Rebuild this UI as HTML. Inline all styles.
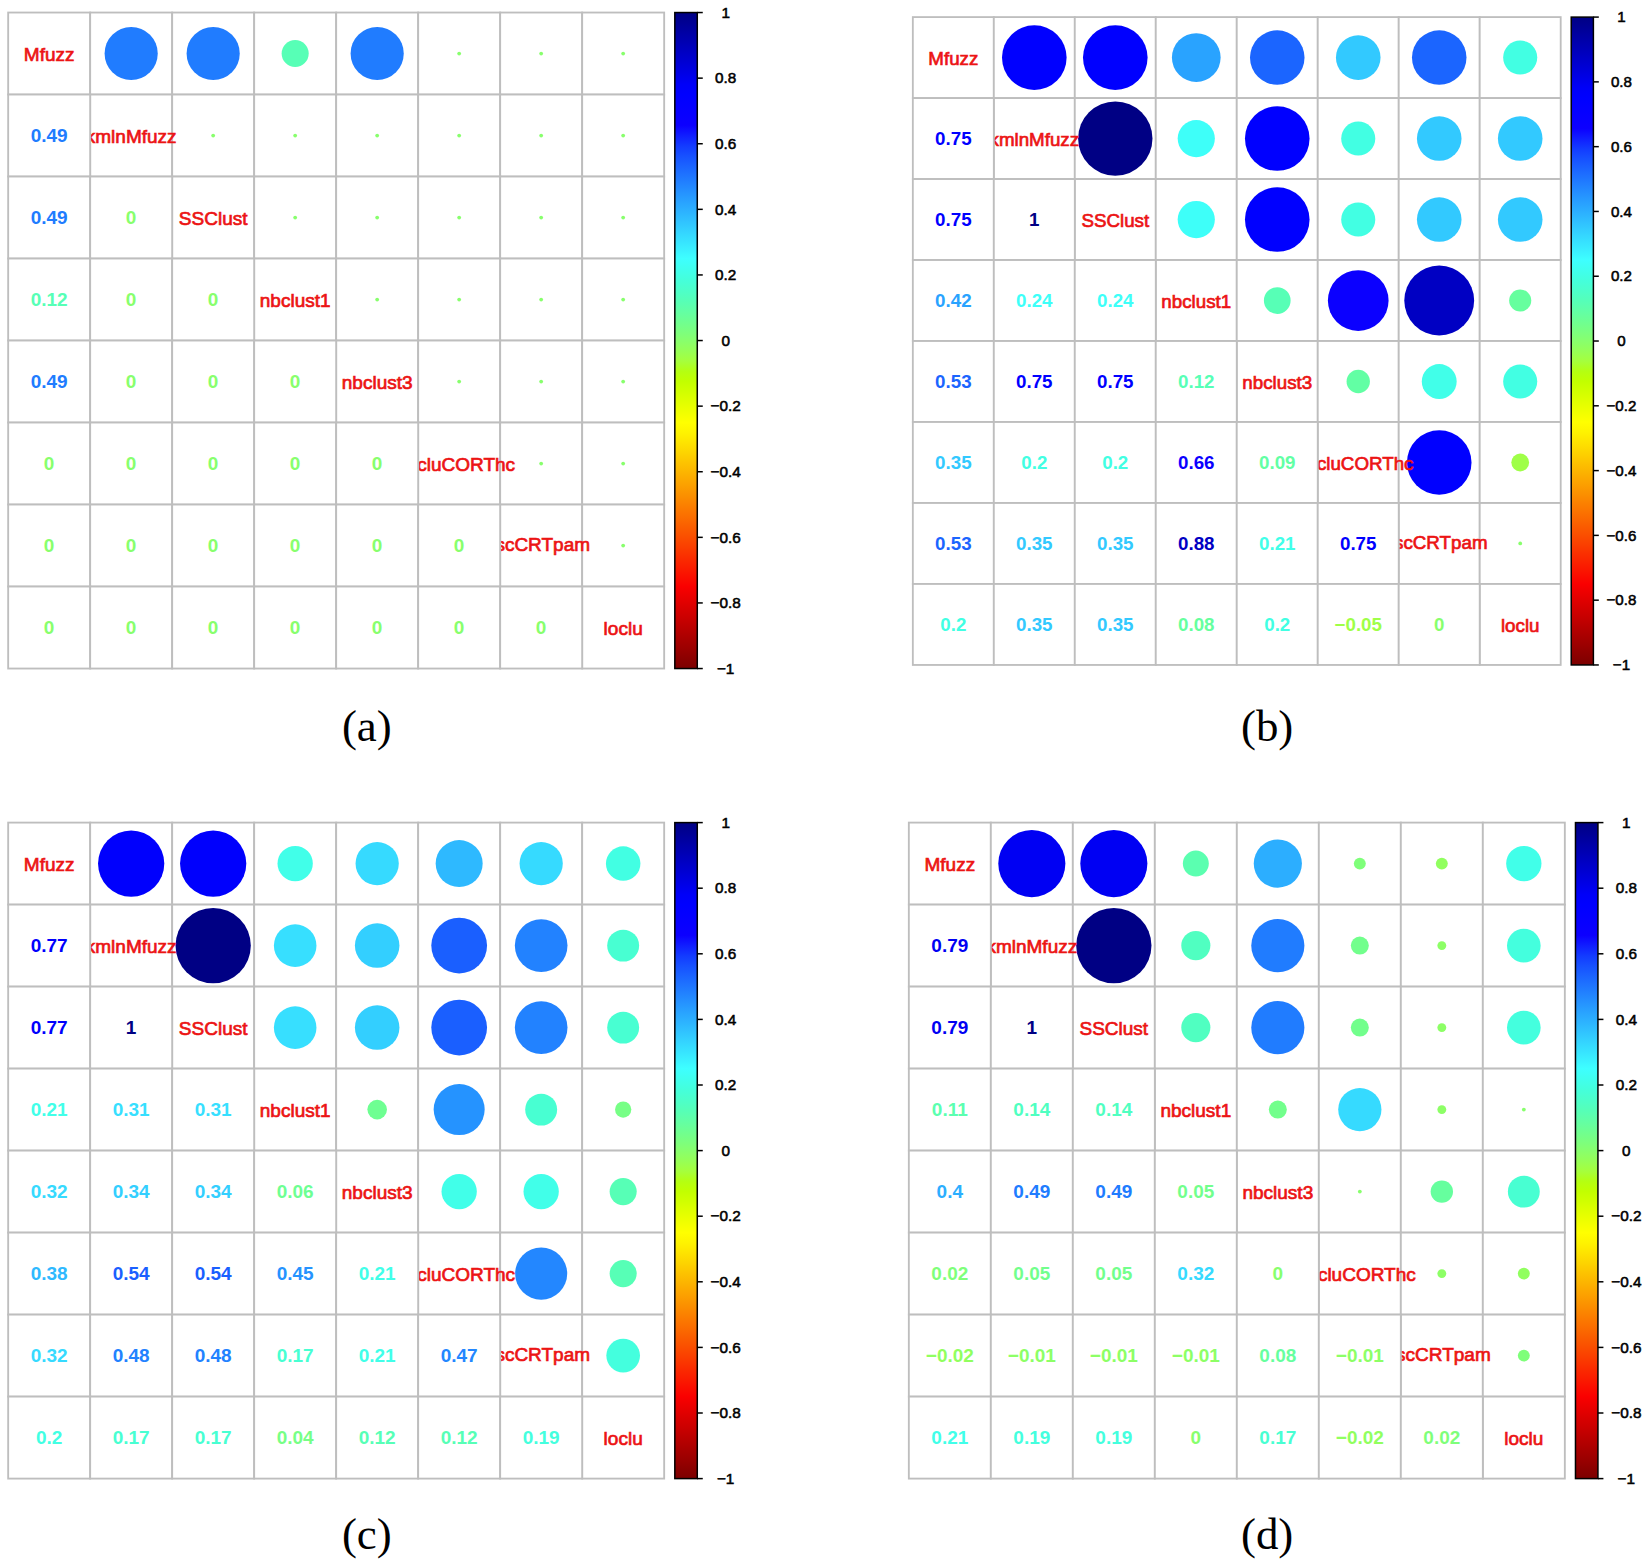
<!DOCTYPE html>
<html lang="en"><head><meta charset="utf-8"><title>Correlation of clustering methods</title>
<style>
html,body{margin:0;padding:0;background:#fff;}
body{width:1650px;height:1566px;overflow:hidden;}
svg{display:block;}
text{text-anchor:middle;}
.lab text{font-family:"Liberation Sans",Arial,sans-serif;font-size:19.0px;fill:#EC1414;stroke:#EC1414;stroke-width:.7px;}
.num text{font-family:"Liberation Sans",Arial,sans-serif;font-size:19.0px;font-weight:bold;stroke-width:0;}
.cl text{font-family:"Liberation Sans",Arial,sans-serif;font-size:15.3px;fill:#000;stroke:#000;stroke-width:.55px;}
.cap text{font-family:"Liberation Serif","Times New Roman",serif;font-size:44.9px;fill:#000;}
</style></head>
<body>
<svg width="1650" height="1566" viewBox="0 0 1650 1566">
<defs><linearGradient id="jet" x1="0" y1="0" x2="0" y2="1"><stop offset="0" stop-color="#000084"/><stop offset="0.0156" stop-color="#000094"/><stop offset="0.0312" stop-color="#0000A5"/><stop offset="0.0469" stop-color="#0000B5"/><stop offset="0.0625" stop-color="#0000C6"/><stop offset="0.0781" stop-color="#0000D6"/><stop offset="0.0938" stop-color="#0000E7"/><stop offset="0.1094" stop-color="#0000F8"/><stop offset="0.125" stop-color="#0000FF"/><stop offset="0.1406" stop-color="#0400FF"/><stop offset="0.1562" stop-color="#0800FF"/><stop offset="0.1719" stop-color="#0C00FF"/><stop offset="0.1875" stop-color="#101EFF"/><stop offset="0.2031" stop-color="#133BFF"/><stop offset="0.2188" stop-color="#1751FF"/><stop offset="0.2344" stop-color="#1B64FF"/><stop offset="0.25" stop-color="#1F76FF"/><stop offset="0.2656" stop-color="#2388FF"/><stop offset="0.2812" stop-color="#279AFF"/><stop offset="0.2969" stop-color="#2BABFF"/><stop offset="0.3125" stop-color="#2FBCFF"/><stop offset="0.3281" stop-color="#33CDFF"/><stop offset="0.3438" stop-color="#36DEFF"/><stop offset="0.3594" stop-color="#3AEEFF"/><stop offset="0.375" stop-color="#3EFFFF"/><stop offset="0.3906" stop-color="#40FFEE"/><stop offset="0.4062" stop-color="#44FFDC"/><stop offset="0.4219" stop-color="#4CFFCB"/><stop offset="0.4375" stop-color="#55FFB9"/><stop offset="0.4531" stop-color="#61FFA7"/><stop offset="0.4688" stop-color="#6DFF94"/><stop offset="0.4844" stop-color="#7AFF81"/><stop offset="0.5" stop-color="#88FF6D"/><stop offset="0.5156" stop-color="#96FF57"/><stop offset="0.5312" stop-color="#A5FF3D"/><stop offset="0.5469" stop-color="#B4FF12"/><stop offset="0.5625" stop-color="#C2FF00"/><stop offset="0.5781" stop-color="#D1FF00"/><stop offset="0.5938" stop-color="#E1FF00"/><stop offset="0.6094" stop-color="#F0FF00"/><stop offset="0.625" stop-color="#FFFF00"/><stop offset="0.6406" stop-color="#FEF300"/><stop offset="0.6562" stop-color="#FEE300"/><stop offset="0.6719" stop-color="#FDD300"/><stop offset="0.6875" stop-color="#FDC200"/><stop offset="0.7031" stop-color="#FCB200"/><stop offset="0.7188" stop-color="#FCA200"/><stop offset="0.7344" stop-color="#FB9200"/><stop offset="0.75" stop-color="#FB8100"/><stop offset="0.7656" stop-color="#FB7100"/><stop offset="0.7812" stop-color="#FA6100"/><stop offset="0.7969" stop-color="#FA5100"/><stop offset="0.8125" stop-color="#FA4100"/><stop offset="0.8281" stop-color="#FA3000"/><stop offset="0.8438" stop-color="#FA2000"/><stop offset="0.8594" stop-color="#FA1000"/><stop offset="0.875" stop-color="#FA0000"/><stop offset="0.8906" stop-color="#EA0000"/><stop offset="0.9062" stop-color="#DA0000"/><stop offset="0.9219" stop-color="#CB0000"/><stop offset="0.9375" stop-color="#BB0000"/><stop offset="0.9531" stop-color="#AB0000"/><stop offset="0.9688" stop-color="#9C0000"/><stop offset="0.9844" stop-color="#8C0000"/><stop offset="1" stop-color="#7C0000"/></linearGradient></defs>
<rect width="1650" height="1566" fill="#fff"/>
<g transform="translate(8.17 12.54) scale(1.0)">
<g fill="#fff" stroke="#BEBEBE" stroke-width="1.85">
<rect x="0" y="0" width="82" height="82"/>
<rect x="82" y="0" width="82" height="82"/>
<rect x="164" y="0" width="82" height="82"/>
<rect x="246" y="0" width="82" height="82"/>
<rect x="328" y="0" width="82" height="82"/>
<rect x="410" y="0" width="82" height="82"/>
<rect x="492" y="0" width="82" height="82"/>
<rect x="574" y="0" width="82" height="82"/>
<rect x="82" y="82" width="82" height="82"/>
<rect x="164" y="82" width="82" height="82"/>
<rect x="246" y="82" width="82" height="82"/>
<rect x="328" y="82" width="82" height="82"/>
<rect x="410" y="82" width="82" height="82"/>
<rect x="492" y="82" width="82" height="82"/>
<rect x="574" y="82" width="82" height="82"/>
<rect x="164" y="164" width="82" height="82"/>
<rect x="246" y="164" width="82" height="82"/>
<rect x="328" y="164" width="82" height="82"/>
<rect x="410" y="164" width="82" height="82"/>
<rect x="492" y="164" width="82" height="82"/>
<rect x="574" y="164" width="82" height="82"/>
<rect x="246" y="246" width="82" height="82"/>
<rect x="328" y="246" width="82" height="82"/>
<rect x="410" y="246" width="82" height="82"/>
<rect x="492" y="246" width="82" height="82"/>
<rect x="574" y="246" width="82" height="82"/>
<rect x="328" y="328" width="82" height="82"/>
<rect x="410" y="328" width="82" height="82"/>
<rect x="492" y="328" width="82" height="82"/>
<rect x="574" y="328" width="82" height="82"/>
<rect x="410" y="410" width="82" height="82"/>
<rect x="492" y="410" width="82" height="82"/>
<rect x="574" y="410" width="82" height="82"/>
<rect x="492" y="492" width="82" height="82"/>
<rect x="574" y="492" width="82" height="82"/>
<rect x="574" y="574" width="82" height="82"/>
</g>
<g>
<circle cx="123" cy="41" r="26.58" fill="#207CFF"/>
<circle cx="205" cy="41" r="26.58" fill="#207CFF"/>
<circle cx="287" cy="41" r="13.53" fill="#57FFB6"/>
<circle cx="369" cy="41" r="26.58" fill="#207CFF"/>
<circle cx="451" cy="41" r="1.9" fill="#88FF6D"/>
<circle cx="533" cy="41" r="1.9" fill="#88FF6D"/>
<circle cx="615" cy="41" r="1.9" fill="#88FF6D"/>
<circle cx="205" cy="123" r="1.9" fill="#88FF6D"/>
<circle cx="287" cy="123" r="1.9" fill="#88FF6D"/>
<circle cx="369" cy="123" r="1.9" fill="#88FF6D"/>
<circle cx="451" cy="123" r="1.9" fill="#88FF6D"/>
<circle cx="533" cy="123" r="1.9" fill="#88FF6D"/>
<circle cx="615" cy="123" r="1.9" fill="#88FF6D"/>
<circle cx="287" cy="205" r="1.9" fill="#88FF6D"/>
<circle cx="369" cy="205" r="1.9" fill="#88FF6D"/>
<circle cx="451" cy="205" r="1.9" fill="#88FF6D"/>
<circle cx="533" cy="205" r="1.9" fill="#88FF6D"/>
<circle cx="615" cy="205" r="1.9" fill="#88FF6D"/>
<circle cx="369" cy="287" r="1.9" fill="#88FF6D"/>
<circle cx="451" cy="287" r="1.9" fill="#88FF6D"/>
<circle cx="533" cy="287" r="1.9" fill="#88FF6D"/>
<circle cx="615" cy="287" r="1.9" fill="#88FF6D"/>
<circle cx="451" cy="369" r="1.9" fill="#88FF6D"/>
<circle cx="533" cy="369" r="1.9" fill="#88FF6D"/>
<circle cx="615" cy="369" r="1.9" fill="#88FF6D"/>
<circle cx="533" cy="451" r="1.9" fill="#88FF6D"/>
<circle cx="615" cy="451" r="1.9" fill="#88FF6D"/>
<circle cx="615" cy="533" r="1.9" fill="#88FF6D"/>
</g>
<g class="lab">
<text x="41" y="48.2">Mfuzz</text>
<text x="123" y="130.2">kmlnMfuzz</text>
<text x="205" y="212.2">SSClust</text>
<text x="287" y="294.2">nbclust1</text>
<text x="369" y="376.2">nbclust3</text>
<text x="506.9" y="458.2" style="text-anchor:end">cluCORThc</text>
<text x="581.9" y="538.2" style="text-anchor:end">scCRTpam</text>
<text x="615" y="622.2">loclu</text>
</g>
<g fill="#fff" stroke="#BEBEBE" stroke-width="1.85">
<rect x="0" y="82" width="82" height="82"/>
<rect x="0" y="164" width="82" height="82"/>
<rect x="82" y="164" width="82" height="82"/>
<rect x="0" y="246" width="82" height="82"/>
<rect x="82" y="246" width="82" height="82"/>
<rect x="164" y="246" width="82" height="82"/>
<rect x="0" y="328" width="82" height="82"/>
<rect x="82" y="328" width="82" height="82"/>
<rect x="164" y="328" width="82" height="82"/>
<rect x="246" y="328" width="82" height="82"/>
<rect x="0" y="410" width="82" height="82"/>
<rect x="82" y="410" width="82" height="82"/>
<rect x="164" y="410" width="82" height="82"/>
<rect x="246" y="410" width="82" height="82"/>
<rect x="328" y="410" width="82" height="82"/>
<rect x="0" y="492" width="82" height="82"/>
<rect x="82" y="492" width="82" height="82"/>
<rect x="164" y="492" width="82" height="82"/>
<rect x="246" y="492" width="82" height="82"/>
<rect x="328" y="492" width="82" height="82"/>
<rect x="410" y="492" width="82" height="82"/>
<rect x="0" y="574" width="82" height="82"/>
<rect x="82" y="574" width="82" height="82"/>
<rect x="164" y="574" width="82" height="82"/>
<rect x="246" y="574" width="82" height="82"/>
<rect x="328" y="574" width="82" height="82"/>
<rect x="410" y="574" width="82" height="82"/>
<rect x="492" y="574" width="82" height="82"/>
</g>
<g class="num">
<text x="41" y="129.2" fill="#207CFF" stroke="#207CFF">0.49</text>
<text x="41" y="211.2" fill="#207CFF" stroke="#207CFF">0.49</text>
<text x="123" y="211.2" fill="#88FF6D" stroke="#88FF6D">0</text>
<text x="41" y="293.2" fill="#57FFB6" stroke="#57FFB6">0.12</text>
<text x="123" y="293.2" fill="#88FF6D" stroke="#88FF6D">0</text>
<text x="205" y="293.2" fill="#88FF6D" stroke="#88FF6D">0</text>
<text x="41" y="375.2" fill="#207CFF" stroke="#207CFF">0.49</text>
<text x="123" y="375.2" fill="#88FF6D" stroke="#88FF6D">0</text>
<text x="205" y="375.2" fill="#88FF6D" stroke="#88FF6D">0</text>
<text x="287" y="375.2" fill="#88FF6D" stroke="#88FF6D">0</text>
<text x="41" y="457.2" fill="#88FF6D" stroke="#88FF6D">0</text>
<text x="123" y="457.2" fill="#88FF6D" stroke="#88FF6D">0</text>
<text x="205" y="457.2" fill="#88FF6D" stroke="#88FF6D">0</text>
<text x="287" y="457.2" fill="#88FF6D" stroke="#88FF6D">0</text>
<text x="369" y="457.2" fill="#88FF6D" stroke="#88FF6D">0</text>
<text x="41" y="539.2" fill="#88FF6D" stroke="#88FF6D">0</text>
<text x="123" y="539.2" fill="#88FF6D" stroke="#88FF6D">0</text>
<text x="205" y="539.2" fill="#88FF6D" stroke="#88FF6D">0</text>
<text x="287" y="539.2" fill="#88FF6D" stroke="#88FF6D">0</text>
<text x="369" y="539.2" fill="#88FF6D" stroke="#88FF6D">0</text>
<text x="451" y="539.2" fill="#88FF6D" stroke="#88FF6D">0</text>
<text x="41" y="621.2" fill="#88FF6D" stroke="#88FF6D">0</text>
<text x="123" y="621.2" fill="#88FF6D" stroke="#88FF6D">0</text>
<text x="205" y="621.2" fill="#88FF6D" stroke="#88FF6D">0</text>
<text x="287" y="621.2" fill="#88FF6D" stroke="#88FF6D">0</text>
<text x="369" y="621.2" fill="#88FF6D" stroke="#88FF6D">0</text>
<text x="451" y="621.2" fill="#88FF6D" stroke="#88FF6D">0</text>
<text x="533" y="621.2" fill="#88FF6D" stroke="#88FF6D">0</text>
</g>
<rect x="666.65" y="0" width="22.45" height="656" fill="url(#jet)" stroke="#000" stroke-width="1.5"/>
<g stroke="#000" stroke-width="1.5">
<line x1="689.1" y1="0" x2="694.6" y2="0"/>
<line x1="689.1" y1="65.6" x2="694.6" y2="65.6"/>
<line x1="689.1" y1="131.2" x2="694.6" y2="131.2"/>
<line x1="689.1" y1="196.8" x2="694.6" y2="196.8"/>
<line x1="689.1" y1="262.4" x2="694.6" y2="262.4"/>
<line x1="689.1" y1="328" x2="694.6" y2="328"/>
<line x1="689.1" y1="393.6" x2="694.6" y2="393.6"/>
<line x1="689.1" y1="459.2" x2="694.6" y2="459.2"/>
<line x1="689.1" y1="524.8" x2="694.6" y2="524.8"/>
<line x1="689.1" y1="590.4" x2="694.6" y2="590.4"/>
<line x1="689.1" y1="656" x2="694.6" y2="656"/>
</g>
<g class="cl">
<text x="717.5" y="5.28">1</text>
<text x="717.5" y="70.88">0.8</text>
<text x="717.5" y="136.48">0.6</text>
<text x="717.5" y="202.08">0.4</text>
<text x="717.5" y="267.68">0.2</text>
<text x="717.5" y="333.28">0</text>
<text x="717.5" y="398.88">−0.2</text>
<text x="717.5" y="464.48">−0.4</text>
<text x="717.5" y="530.08">−0.6</text>
<text x="717.5" y="595.68">−0.8</text>
<text x="717.5" y="661.28">−1</text>
</g>
</g>
<g transform="translate(912.83 17.09) scale(0.9876)">
<g fill="#fff" stroke="#BEBEBE" stroke-width="1.85">
<rect x="0" y="0" width="82" height="82"/>
<rect x="82" y="0" width="82" height="82"/>
<rect x="164" y="0" width="82" height="82"/>
<rect x="246" y="0" width="82" height="82"/>
<rect x="328" y="0" width="82" height="82"/>
<rect x="410" y="0" width="82" height="82"/>
<rect x="492" y="0" width="82" height="82"/>
<rect x="574" y="0" width="82" height="82"/>
<rect x="82" y="82" width="82" height="82"/>
<rect x="164" y="82" width="82" height="82"/>
<rect x="246" y="82" width="82" height="82"/>
<rect x="328" y="82" width="82" height="82"/>
<rect x="410" y="82" width="82" height="82"/>
<rect x="492" y="82" width="82" height="82"/>
<rect x="574" y="82" width="82" height="82"/>
<rect x="164" y="164" width="82" height="82"/>
<rect x="246" y="164" width="82" height="82"/>
<rect x="328" y="164" width="82" height="82"/>
<rect x="410" y="164" width="82" height="82"/>
<rect x="492" y="164" width="82" height="82"/>
<rect x="574" y="164" width="82" height="82"/>
<rect x="246" y="246" width="82" height="82"/>
<rect x="328" y="246" width="82" height="82"/>
<rect x="410" y="246" width="82" height="82"/>
<rect x="492" y="246" width="82" height="82"/>
<rect x="574" y="246" width="82" height="82"/>
<rect x="328" y="328" width="82" height="82"/>
<rect x="410" y="328" width="82" height="82"/>
<rect x="492" y="328" width="82" height="82"/>
<rect x="574" y="328" width="82" height="82"/>
<rect x="410" y="410" width="82" height="82"/>
<rect x="492" y="410" width="82" height="82"/>
<rect x="574" y="410" width="82" height="82"/>
<rect x="492" y="492" width="82" height="82"/>
<rect x="574" y="492" width="82" height="82"/>
<rect x="574" y="574" width="82" height="82"/>
</g>
<g>
<circle cx="123" cy="41" r="32.71" fill="#0000FF"/>
<circle cx="205" cy="41" r="32.71" fill="#0000FF"/>
<circle cx="287" cy="41" r="24.66" fill="#29A3FF"/>
<circle cx="369" cy="41" r="27.61" fill="#1B65FF"/>
<circle cx="451" cy="41" r="22.58" fill="#32C9FF"/>
<circle cx="533" cy="41" r="27.61" fill="#1B65FF"/>
<circle cx="615" cy="41" r="17.25" fill="#42FFE3"/>
<circle cx="205" cy="123" r="37.65" fill="#000084"/>
<circle cx="287" cy="123" r="18.83" fill="#3EFFF9"/>
<circle cx="369" cy="123" r="32.71" fill="#0000FF"/>
<circle cx="451" cy="123" r="17.25" fill="#42FFE3"/>
<circle cx="533" cy="123" r="22.58" fill="#32C9FF"/>
<circle cx="615" cy="123" r="22.58" fill="#32C9FF"/>
<circle cx="287" cy="205" r="18.83" fill="#3EFFF9"/>
<circle cx="369" cy="205" r="32.71" fill="#0000FF"/>
<circle cx="451" cy="205" r="17.25" fill="#42FFE3"/>
<circle cx="533" cy="205" r="22.58" fill="#32C9FF"/>
<circle cx="615" cy="205" r="22.58" fill="#32C9FF"/>
<circle cx="369" cy="287" r="13.53" fill="#57FFB6"/>
<circle cx="451" cy="287" r="30.73" fill="#0B00FF"/>
<circle cx="533" cy="287" r="35.37" fill="#0000C3"/>
<circle cx="615" cy="287" r="11.19" fill="#66FF9E"/>
<circle cx="451" cy="369" r="11.82" fill="#62FFA4"/>
<circle cx="533" cy="369" r="17.66" fill="#41FFE9"/>
<circle cx="615" cy="369" r="17.25" fill="#42FFE3"/>
<circle cx="533" cy="451" r="32.71" fill="#0000FF"/>
<circle cx="615" cy="451" r="9" fill="#9FFF48"/>
<circle cx="615" cy="533" r="1.9" fill="#88FF6D"/>
</g>
<g class="lab">
<text x="41" y="48.2">Mfuzz</text>
<text x="123" y="130.2">kmlnMfuzz</text>
<text x="205" y="212.2">SSClust</text>
<text x="287" y="294.2">nbclust1</text>
<text x="369" y="376.2">nbclust3</text>
<text x="506.9" y="458.2" style="text-anchor:end">cluCORThc</text>
<text x="581.9" y="538.2" style="text-anchor:end">scCRTpam</text>
<text x="615" y="622.2">loclu</text>
</g>
<g fill="#fff" stroke="#BEBEBE" stroke-width="1.85">
<rect x="0" y="82" width="82" height="82"/>
<rect x="0" y="164" width="82" height="82"/>
<rect x="82" y="164" width="82" height="82"/>
<rect x="0" y="246" width="82" height="82"/>
<rect x="82" y="246" width="82" height="82"/>
<rect x="164" y="246" width="82" height="82"/>
<rect x="0" y="328" width="82" height="82"/>
<rect x="82" y="328" width="82" height="82"/>
<rect x="164" y="328" width="82" height="82"/>
<rect x="246" y="328" width="82" height="82"/>
<rect x="0" y="410" width="82" height="82"/>
<rect x="82" y="410" width="82" height="82"/>
<rect x="164" y="410" width="82" height="82"/>
<rect x="246" y="410" width="82" height="82"/>
<rect x="328" y="410" width="82" height="82"/>
<rect x="0" y="492" width="82" height="82"/>
<rect x="82" y="492" width="82" height="82"/>
<rect x="164" y="492" width="82" height="82"/>
<rect x="246" y="492" width="82" height="82"/>
<rect x="328" y="492" width="82" height="82"/>
<rect x="410" y="492" width="82" height="82"/>
<rect x="0" y="574" width="82" height="82"/>
<rect x="82" y="574" width="82" height="82"/>
<rect x="164" y="574" width="82" height="82"/>
<rect x="246" y="574" width="82" height="82"/>
<rect x="328" y="574" width="82" height="82"/>
<rect x="410" y="574" width="82" height="82"/>
<rect x="492" y="574" width="82" height="82"/>
</g>
<g class="num">
<text x="41" y="129.2" fill="#0000FF" stroke="#0000FF">0.75</text>
<text x="41" y="211.2" fill="#0000FF" stroke="#0000FF">0.75</text>
<text x="123" y="211.2" fill="#000084" stroke="#000084">1</text>
<text x="41" y="293.2" fill="#29A3FF" stroke="#29A3FF">0.42</text>
<text x="123" y="293.2" fill="#3EFFF9" stroke="#3EFFF9">0.24</text>
<text x="205" y="293.2" fill="#3EFFF9" stroke="#3EFFF9">0.24</text>
<text x="41" y="375.2" fill="#1B65FF" stroke="#1B65FF">0.53</text>
<text x="123" y="375.2" fill="#0000FF" stroke="#0000FF">0.75</text>
<text x="205" y="375.2" fill="#0000FF" stroke="#0000FF">0.75</text>
<text x="287" y="375.2" fill="#57FFB6" stroke="#57FFB6">0.12</text>
<text x="41" y="457.2" fill="#32C9FF" stroke="#32C9FF">0.35</text>
<text x="123" y="457.2" fill="#42FFE3" stroke="#42FFE3">0.2</text>
<text x="205" y="457.2" fill="#42FFE3" stroke="#42FFE3">0.2</text>
<text x="287" y="457.2" fill="#0B00FF" stroke="#0B00FF">0.66</text>
<text x="369" y="457.2" fill="#62FFA4" stroke="#62FFA4">0.09</text>
<text x="41" y="539.2" fill="#1B65FF" stroke="#1B65FF">0.53</text>
<text x="123" y="539.2" fill="#32C9FF" stroke="#32C9FF">0.35</text>
<text x="205" y="539.2" fill="#32C9FF" stroke="#32C9FF">0.35</text>
<text x="287" y="539.2" fill="#0000C3" stroke="#0000C3">0.88</text>
<text x="369" y="539.2" fill="#41FFE9" stroke="#41FFE9">0.21</text>
<text x="451" y="539.2" fill="#0000FF" stroke="#0000FF">0.75</text>
<text x="41" y="621.2" fill="#42FFE3" stroke="#42FFE3">0.2</text>
<text x="123" y="621.2" fill="#32C9FF" stroke="#32C9FF">0.35</text>
<text x="205" y="621.2" fill="#32C9FF" stroke="#32C9FF">0.35</text>
<text x="287" y="621.2" fill="#66FF9E" stroke="#66FF9E">0.08</text>
<text x="369" y="621.2" fill="#42FFE3" stroke="#42FFE3">0.2</text>
<text x="451" y="621.2" fill="#9FFF48" stroke="#9FFF48">−0.05</text>
<text x="533" y="621.2" fill="#88FF6D" stroke="#88FF6D">0</text>
</g>
<rect x="666.65" y="0" width="22.45" height="656" fill="url(#jet)" stroke="#000" stroke-width="1.5"/>
<g stroke="#000" stroke-width="1.5">
<line x1="689.1" y1="0" x2="694.6" y2="0"/>
<line x1="689.1" y1="65.6" x2="694.6" y2="65.6"/>
<line x1="689.1" y1="131.2" x2="694.6" y2="131.2"/>
<line x1="689.1" y1="196.8" x2="694.6" y2="196.8"/>
<line x1="689.1" y1="262.4" x2="694.6" y2="262.4"/>
<line x1="689.1" y1="328" x2="694.6" y2="328"/>
<line x1="689.1" y1="393.6" x2="694.6" y2="393.6"/>
<line x1="689.1" y1="459.2" x2="694.6" y2="459.2"/>
<line x1="689.1" y1="524.8" x2="694.6" y2="524.8"/>
<line x1="689.1" y1="590.4" x2="694.6" y2="590.4"/>
<line x1="689.1" y1="656" x2="694.6" y2="656"/>
</g>
<g class="cl">
<text x="717.5" y="5.28">1</text>
<text x="717.5" y="70.88">0.8</text>
<text x="717.5" y="136.48">0.6</text>
<text x="717.5" y="202.08">0.4</text>
<text x="717.5" y="267.68">0.2</text>
<text x="717.5" y="333.28">0</text>
<text x="717.5" y="398.88">−0.2</text>
<text x="717.5" y="464.48">−0.4</text>
<text x="717.5" y="530.08">−0.6</text>
<text x="717.5" y="595.68">−0.8</text>
<text x="717.5" y="661.28">−1</text>
</g>
</g>
<g transform="translate(8.17 822.6) scale(1.0)">
<g fill="#fff" stroke="#BEBEBE" stroke-width="1.85">
<rect x="0" y="0" width="82" height="82"/>
<rect x="82" y="0" width="82" height="82"/>
<rect x="164" y="0" width="82" height="82"/>
<rect x="246" y="0" width="82" height="82"/>
<rect x="328" y="0" width="82" height="82"/>
<rect x="410" y="0" width="82" height="82"/>
<rect x="492" y="0" width="82" height="82"/>
<rect x="574" y="0" width="82" height="82"/>
<rect x="82" y="82" width="82" height="82"/>
<rect x="164" y="82" width="82" height="82"/>
<rect x="246" y="82" width="82" height="82"/>
<rect x="328" y="82" width="82" height="82"/>
<rect x="410" y="82" width="82" height="82"/>
<rect x="492" y="82" width="82" height="82"/>
<rect x="574" y="82" width="82" height="82"/>
<rect x="164" y="164" width="82" height="82"/>
<rect x="246" y="164" width="82" height="82"/>
<rect x="328" y="164" width="82" height="82"/>
<rect x="410" y="164" width="82" height="82"/>
<rect x="492" y="164" width="82" height="82"/>
<rect x="574" y="164" width="82" height="82"/>
<rect x="246" y="246" width="82" height="82"/>
<rect x="328" y="246" width="82" height="82"/>
<rect x="410" y="246" width="82" height="82"/>
<rect x="492" y="246" width="82" height="82"/>
<rect x="574" y="246" width="82" height="82"/>
<rect x="328" y="328" width="82" height="82"/>
<rect x="410" y="328" width="82" height="82"/>
<rect x="492" y="328" width="82" height="82"/>
<rect x="574" y="328" width="82" height="82"/>
<rect x="410" y="410" width="82" height="82"/>
<rect x="492" y="410" width="82" height="82"/>
<rect x="574" y="410" width="82" height="82"/>
<rect x="492" y="492" width="82" height="82"/>
<rect x="574" y="492" width="82" height="82"/>
<rect x="574" y="574" width="82" height="82"/>
</g>
<g>
<circle cx="123" cy="41" r="33.13" fill="#0000FD"/>
<circle cx="205" cy="41" r="33.13" fill="#0000FD"/>
<circle cx="287" cy="41" r="17.66" fill="#41FFE9"/>
<circle cx="369" cy="41" r="21.62" fill="#36DAFF"/>
<circle cx="451" cy="41" r="23.5" fill="#2EB9FF"/>
<circle cx="533" cy="41" r="21.62" fill="#36DAFF"/>
<circle cx="615" cy="41" r="17.25" fill="#42FFE3"/>
<circle cx="205" cy="123" r="37.65" fill="#000084"/>
<circle cx="287" cy="123" r="21.3" fill="#37DFFF"/>
<circle cx="369" cy="123" r="22.27" fill="#33CFFF"/>
<circle cx="451" cy="123" r="27.87" fill="#1A5FFF"/>
<circle cx="533" cy="123" r="26.32" fill="#2282FF"/>
<circle cx="615" cy="123" r="15.96" fill="#48FFD2"/>
<circle cx="287" cy="205" r="21.3" fill="#37DFFF"/>
<circle cx="369" cy="205" r="22.27" fill="#33CFFF"/>
<circle cx="451" cy="205" r="27.87" fill="#1A5FFF"/>
<circle cx="533" cy="205" r="26.32" fill="#2282FF"/>
<circle cx="615" cy="205" r="15.96" fill="#48FFD2"/>
<circle cx="369" cy="287" r="9.79" fill="#6EFF92"/>
<circle cx="451" cy="287" r="25.5" fill="#2593FF"/>
<circle cx="533" cy="287" r="15.96" fill="#48FFD2"/>
<circle cx="615" cy="287" r="8.13" fill="#77FF86"/>
<circle cx="451" cy="369" r="17.66" fill="#41FFE9"/>
<circle cx="533" cy="369" r="17.66" fill="#41FFE9"/>
<circle cx="615" cy="369" r="13.53" fill="#57FFB6"/>
<circle cx="533" cy="451" r="26.05" fill="#2387FF"/>
<circle cx="615" cy="451" r="13.53" fill="#57FFB6"/>
<circle cx="615" cy="533" r="16.83" fill="#44FFDE"/>
</g>
<g class="lab">
<text x="41" y="48.2">Mfuzz</text>
<text x="123" y="130.2">kmlnMfuzz</text>
<text x="205" y="212.2">SSClust</text>
<text x="287" y="294.2">nbclust1</text>
<text x="369" y="376.2">nbclust3</text>
<text x="506.9" y="458.2" style="text-anchor:end">cluCORThc</text>
<text x="581.9" y="538.2" style="text-anchor:end">scCRTpam</text>
<text x="615" y="622.2">loclu</text>
</g>
<g fill="#fff" stroke="#BEBEBE" stroke-width="1.85">
<rect x="0" y="82" width="82" height="82"/>
<rect x="0" y="164" width="82" height="82"/>
<rect x="82" y="164" width="82" height="82"/>
<rect x="0" y="246" width="82" height="82"/>
<rect x="82" y="246" width="82" height="82"/>
<rect x="164" y="246" width="82" height="82"/>
<rect x="0" y="328" width="82" height="82"/>
<rect x="82" y="328" width="82" height="82"/>
<rect x="164" y="328" width="82" height="82"/>
<rect x="246" y="328" width="82" height="82"/>
<rect x="0" y="410" width="82" height="82"/>
<rect x="82" y="410" width="82" height="82"/>
<rect x="164" y="410" width="82" height="82"/>
<rect x="246" y="410" width="82" height="82"/>
<rect x="328" y="410" width="82" height="82"/>
<rect x="0" y="492" width="82" height="82"/>
<rect x="82" y="492" width="82" height="82"/>
<rect x="164" y="492" width="82" height="82"/>
<rect x="246" y="492" width="82" height="82"/>
<rect x="328" y="492" width="82" height="82"/>
<rect x="410" y="492" width="82" height="82"/>
<rect x="0" y="574" width="82" height="82"/>
<rect x="82" y="574" width="82" height="82"/>
<rect x="164" y="574" width="82" height="82"/>
<rect x="246" y="574" width="82" height="82"/>
<rect x="328" y="574" width="82" height="82"/>
<rect x="410" y="574" width="82" height="82"/>
<rect x="492" y="574" width="82" height="82"/>
</g>
<g class="num">
<text x="41" y="129.2" fill="#0000FD" stroke="#0000FD">0.77</text>
<text x="41" y="211.2" fill="#0000FD" stroke="#0000FD">0.77</text>
<text x="123" y="211.2" fill="#000084" stroke="#000084">1</text>
<text x="41" y="293.2" fill="#41FFE9" stroke="#41FFE9">0.21</text>
<text x="123" y="293.2" fill="#37DFFF" stroke="#37DFFF">0.31</text>
<text x="205" y="293.2" fill="#37DFFF" stroke="#37DFFF">0.31</text>
<text x="41" y="375.2" fill="#36DAFF" stroke="#36DAFF">0.32</text>
<text x="123" y="375.2" fill="#33CFFF" stroke="#33CFFF">0.34</text>
<text x="205" y="375.2" fill="#33CFFF" stroke="#33CFFF">0.34</text>
<text x="287" y="375.2" fill="#6EFF92" stroke="#6EFF92">0.06</text>
<text x="41" y="457.2" fill="#2EB9FF" stroke="#2EB9FF">0.38</text>
<text x="123" y="457.2" fill="#1A5FFF" stroke="#1A5FFF">0.54</text>
<text x="205" y="457.2" fill="#1A5FFF" stroke="#1A5FFF">0.54</text>
<text x="287" y="457.2" fill="#2593FF" stroke="#2593FF">0.45</text>
<text x="369" y="457.2" fill="#41FFE9" stroke="#41FFE9">0.21</text>
<text x="41" y="539.2" fill="#36DAFF" stroke="#36DAFF">0.32</text>
<text x="123" y="539.2" fill="#2282FF" stroke="#2282FF">0.48</text>
<text x="205" y="539.2" fill="#2282FF" stroke="#2282FF">0.48</text>
<text x="287" y="539.2" fill="#48FFD2" stroke="#48FFD2">0.17</text>
<text x="369" y="539.2" fill="#41FFE9" stroke="#41FFE9">0.21</text>
<text x="451" y="539.2" fill="#2387FF" stroke="#2387FF">0.47</text>
<text x="41" y="621.2" fill="#42FFE3" stroke="#42FFE3">0.2</text>
<text x="123" y="621.2" fill="#48FFD2" stroke="#48FFD2">0.17</text>
<text x="205" y="621.2" fill="#48FFD2" stroke="#48FFD2">0.17</text>
<text x="287" y="621.2" fill="#77FF86" stroke="#77FF86">0.04</text>
<text x="369" y="621.2" fill="#57FFB6" stroke="#57FFB6">0.12</text>
<text x="451" y="621.2" fill="#57FFB6" stroke="#57FFB6">0.12</text>
<text x="533" y="621.2" fill="#44FFDE" stroke="#44FFDE">0.19</text>
</g>
<rect x="666.65" y="0" width="22.45" height="656" fill="url(#jet)" stroke="#000" stroke-width="1.5"/>
<g stroke="#000" stroke-width="1.5">
<line x1="689.1" y1="0" x2="694.6" y2="0"/>
<line x1="689.1" y1="65.6" x2="694.6" y2="65.6"/>
<line x1="689.1" y1="131.2" x2="694.6" y2="131.2"/>
<line x1="689.1" y1="196.8" x2="694.6" y2="196.8"/>
<line x1="689.1" y1="262.4" x2="694.6" y2="262.4"/>
<line x1="689.1" y1="328" x2="694.6" y2="328"/>
<line x1="689.1" y1="393.6" x2="694.6" y2="393.6"/>
<line x1="689.1" y1="459.2" x2="694.6" y2="459.2"/>
<line x1="689.1" y1="524.8" x2="694.6" y2="524.8"/>
<line x1="689.1" y1="590.4" x2="694.6" y2="590.4"/>
<line x1="689.1" y1="656" x2="694.6" y2="656"/>
</g>
<g class="cl">
<text x="717.5" y="5.28">1</text>
<text x="717.5" y="70.88">0.8</text>
<text x="717.5" y="136.48">0.6</text>
<text x="717.5" y="202.08">0.4</text>
<text x="717.5" y="267.68">0.2</text>
<text x="717.5" y="333.28">0</text>
<text x="717.5" y="398.88">−0.2</text>
<text x="717.5" y="464.48">−0.4</text>
<text x="717.5" y="530.08">−0.6</text>
<text x="717.5" y="595.68">−0.8</text>
<text x="717.5" y="661.28">−1</text>
</g>
</g>
<g transform="translate(908.83 822.6) scale(1.0)">
<g fill="#fff" stroke="#BEBEBE" stroke-width="1.85">
<rect x="0" y="0" width="82" height="82"/>
<rect x="82" y="0" width="82" height="82"/>
<rect x="164" y="0" width="82" height="82"/>
<rect x="246" y="0" width="82" height="82"/>
<rect x="328" y="0" width="82" height="82"/>
<rect x="410" y="0" width="82" height="82"/>
<rect x="492" y="0" width="82" height="82"/>
<rect x="574" y="0" width="82" height="82"/>
<rect x="82" y="82" width="82" height="82"/>
<rect x="164" y="82" width="82" height="82"/>
<rect x="246" y="82" width="82" height="82"/>
<rect x="328" y="82" width="82" height="82"/>
<rect x="410" y="82" width="82" height="82"/>
<rect x="492" y="82" width="82" height="82"/>
<rect x="574" y="82" width="82" height="82"/>
<rect x="164" y="164" width="82" height="82"/>
<rect x="246" y="164" width="82" height="82"/>
<rect x="328" y="164" width="82" height="82"/>
<rect x="410" y="164" width="82" height="82"/>
<rect x="492" y="164" width="82" height="82"/>
<rect x="574" y="164" width="82" height="82"/>
<rect x="246" y="246" width="82" height="82"/>
<rect x="328" y="246" width="82" height="82"/>
<rect x="410" y="246" width="82" height="82"/>
<rect x="492" y="246" width="82" height="82"/>
<rect x="574" y="246" width="82" height="82"/>
<rect x="328" y="328" width="82" height="82"/>
<rect x="410" y="328" width="82" height="82"/>
<rect x="492" y="328" width="82" height="82"/>
<rect x="574" y="328" width="82" height="82"/>
<rect x="410" y="410" width="82" height="82"/>
<rect x="492" y="410" width="82" height="82"/>
<rect x="574" y="410" width="82" height="82"/>
<rect x="492" y="492" width="82" height="82"/>
<rect x="574" y="492" width="82" height="82"/>
<rect x="574" y="574" width="82" height="82"/>
</g>
<g>
<circle cx="123" cy="41" r="33.55" fill="#0000F3"/>
<circle cx="205" cy="41" r="33.55" fill="#0000F3"/>
<circle cx="287" cy="41" r="12.99" fill="#5BFFB0"/>
<circle cx="369" cy="41" r="24.09" fill="#2CAEFF"/>
<circle cx="451" cy="41" r="5.97" fill="#7FFF7A"/>
<circle cx="533" cy="41" r="5.97" fill="#91FF5F"/>
<circle cx="615" cy="41" r="17.66" fill="#41FFE9"/>
<circle cx="205" cy="123" r="37.65" fill="#000084"/>
<circle cx="287" cy="123" r="14.56" fill="#50FFC1"/>
<circle cx="369" cy="123" r="26.58" fill="#207CFF"/>
<circle cx="451" cy="123" r="9" fill="#72FF8C"/>
<circle cx="533" cy="123" r="4.44" fill="#8DFF66"/>
<circle cx="615" cy="123" r="16.83" fill="#44FFDE"/>
<circle cx="287" cy="205" r="14.56" fill="#50FFC1"/>
<circle cx="369" cy="205" r="26.58" fill="#207CFF"/>
<circle cx="451" cy="205" r="9" fill="#72FF8C"/>
<circle cx="533" cy="205" r="4.44" fill="#8DFF66"/>
<circle cx="615" cy="205" r="16.83" fill="#44FFDE"/>
<circle cx="369" cy="287" r="9" fill="#72FF8C"/>
<circle cx="451" cy="287" r="21.62" fill="#36DAFF"/>
<circle cx="533" cy="287" r="4.44" fill="#8DFF66"/>
<circle cx="615" cy="287" r="1.9" fill="#88FF6D"/>
<circle cx="451" cy="369" r="1.9" fill="#88FF6D"/>
<circle cx="533" cy="369" r="11.19" fill="#66FF9E"/>
<circle cx="615" cy="369" r="15.96" fill="#48FFD2"/>
<circle cx="533" cy="451" r="4.44" fill="#8DFF66"/>
<circle cx="615" cy="451" r="5.97" fill="#91FF5F"/>
<circle cx="615" cy="533" r="5.97" fill="#7FFF7A"/>
</g>
<g class="lab">
<text x="41" y="48.2">Mfuzz</text>
<text x="123" y="130.2">kmlnMfuzz</text>
<text x="205" y="212.2">SSClust</text>
<text x="287" y="294.2">nbclust1</text>
<text x="369" y="376.2">nbclust3</text>
<text x="506.9" y="458.2" style="text-anchor:end">cluCORThc</text>
<text x="581.9" y="538.2" style="text-anchor:end">scCRTpam</text>
<text x="615" y="622.2">loclu</text>
</g>
<g fill="#fff" stroke="#BEBEBE" stroke-width="1.85">
<rect x="0" y="82" width="82" height="82"/>
<rect x="0" y="164" width="82" height="82"/>
<rect x="82" y="164" width="82" height="82"/>
<rect x="0" y="246" width="82" height="82"/>
<rect x="82" y="246" width="82" height="82"/>
<rect x="164" y="246" width="82" height="82"/>
<rect x="0" y="328" width="82" height="82"/>
<rect x="82" y="328" width="82" height="82"/>
<rect x="164" y="328" width="82" height="82"/>
<rect x="246" y="328" width="82" height="82"/>
<rect x="0" y="410" width="82" height="82"/>
<rect x="82" y="410" width="82" height="82"/>
<rect x="164" y="410" width="82" height="82"/>
<rect x="246" y="410" width="82" height="82"/>
<rect x="328" y="410" width="82" height="82"/>
<rect x="0" y="492" width="82" height="82"/>
<rect x="82" y="492" width="82" height="82"/>
<rect x="164" y="492" width="82" height="82"/>
<rect x="246" y="492" width="82" height="82"/>
<rect x="328" y="492" width="82" height="82"/>
<rect x="410" y="492" width="82" height="82"/>
<rect x="0" y="574" width="82" height="82"/>
<rect x="82" y="574" width="82" height="82"/>
<rect x="164" y="574" width="82" height="82"/>
<rect x="246" y="574" width="82" height="82"/>
<rect x="328" y="574" width="82" height="82"/>
<rect x="410" y="574" width="82" height="82"/>
<rect x="492" y="574" width="82" height="82"/>
</g>
<g class="num">
<text x="41" y="129.2" fill="#0000F3" stroke="#0000F3">0.79</text>
<text x="41" y="211.2" fill="#0000F3" stroke="#0000F3">0.79</text>
<text x="123" y="211.2" fill="#000084" stroke="#000084">1</text>
<text x="41" y="293.2" fill="#5BFFB0" stroke="#5BFFB0">0.11</text>
<text x="123" y="293.2" fill="#50FFC1" stroke="#50FFC1">0.14</text>
<text x="205" y="293.2" fill="#50FFC1" stroke="#50FFC1">0.14</text>
<text x="41" y="375.2" fill="#2CAEFF" stroke="#2CAEFF">0.4</text>
<text x="123" y="375.2" fill="#207CFF" stroke="#207CFF">0.49</text>
<text x="205" y="375.2" fill="#207CFF" stroke="#207CFF">0.49</text>
<text x="287" y="375.2" fill="#72FF8C" stroke="#72FF8C">0.05</text>
<text x="41" y="457.2" fill="#7FFF7A" stroke="#7FFF7A">0.02</text>
<text x="123" y="457.2" fill="#72FF8C" stroke="#72FF8C">0.05</text>
<text x="205" y="457.2" fill="#72FF8C" stroke="#72FF8C">0.05</text>
<text x="287" y="457.2" fill="#36DAFF" stroke="#36DAFF">0.32</text>
<text x="369" y="457.2" fill="#88FF6D" stroke="#88FF6D">0</text>
<text x="41" y="539.2" fill="#91FF5F" stroke="#91FF5F">−0.02</text>
<text x="123" y="539.2" fill="#8DFF66" stroke="#8DFF66">−0.01</text>
<text x="205" y="539.2" fill="#8DFF66" stroke="#8DFF66">−0.01</text>
<text x="287" y="539.2" fill="#8DFF66" stroke="#8DFF66">−0.01</text>
<text x="369" y="539.2" fill="#66FF9E" stroke="#66FF9E">0.08</text>
<text x="451" y="539.2" fill="#8DFF66" stroke="#8DFF66">−0.01</text>
<text x="41" y="621.2" fill="#41FFE9" stroke="#41FFE9">0.21</text>
<text x="123" y="621.2" fill="#44FFDE" stroke="#44FFDE">0.19</text>
<text x="205" y="621.2" fill="#44FFDE" stroke="#44FFDE">0.19</text>
<text x="287" y="621.2" fill="#88FF6D" stroke="#88FF6D">0</text>
<text x="369" y="621.2" fill="#48FFD2" stroke="#48FFD2">0.17</text>
<text x="451" y="621.2" fill="#91FF5F" stroke="#91FF5F">−0.02</text>
<text x="533" y="621.2" fill="#7FFF7A" stroke="#7FFF7A">0.02</text>
</g>
<rect x="666.65" y="0" width="22.45" height="656" fill="url(#jet)" stroke="#000" stroke-width="1.5"/>
<g stroke="#000" stroke-width="1.5">
<line x1="689.1" y1="0" x2="694.6" y2="0"/>
<line x1="689.1" y1="65.6" x2="694.6" y2="65.6"/>
<line x1="689.1" y1="131.2" x2="694.6" y2="131.2"/>
<line x1="689.1" y1="196.8" x2="694.6" y2="196.8"/>
<line x1="689.1" y1="262.4" x2="694.6" y2="262.4"/>
<line x1="689.1" y1="328" x2="694.6" y2="328"/>
<line x1="689.1" y1="393.6" x2="694.6" y2="393.6"/>
<line x1="689.1" y1="459.2" x2="694.6" y2="459.2"/>
<line x1="689.1" y1="524.8" x2="694.6" y2="524.8"/>
<line x1="689.1" y1="590.4" x2="694.6" y2="590.4"/>
<line x1="689.1" y1="656" x2="694.6" y2="656"/>
</g>
<g class="cl">
<text x="717.5" y="5.28">1</text>
<text x="717.5" y="70.88">0.8</text>
<text x="717.5" y="136.48">0.6</text>
<text x="717.5" y="202.08">0.4</text>
<text x="717.5" y="267.68">0.2</text>
<text x="717.5" y="333.28">0</text>
<text x="717.5" y="398.88">−0.2</text>
<text x="717.5" y="464.48">−0.4</text>
<text x="717.5" y="530.08">−0.6</text>
<text x="717.5" y="595.68">−0.8</text>
<text x="717.5" y="661.28">−1</text>
</g>
</g>
<g class="cap">
<text x="366.85" y="741.2">(a)</text>
<text x="1267.15" y="741.2">(b)</text>
<text x="366.85" y="1549">(c)</text>
<text x="1267.15" y="1549">(d)</text>
</g>
</svg>
</body></html>
